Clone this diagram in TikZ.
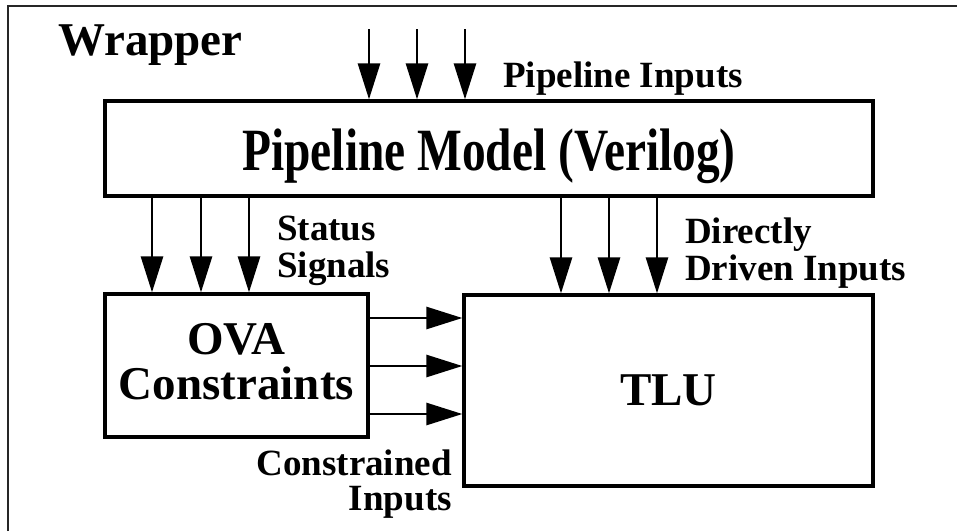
\documentclass[tikz,border=0pt]{standalone}
\usepackage{fontspec}
\usepackage{graphicx}
\setmainfont{Liberation Serif}
\usetikzlibrary{arrows.meta, positioning}

\begin{document}
\begin{tikzpicture}[
    x=1pt, y=-1pt,
    block/.style={draw, line width=3.3pt, inner sep=0pt, font=\fontsize{47}{45}\selectfont\bfseries, align=center},
    signal/.style={-{Triangle[length=36pt, width=22pt]}, line width=2.8pt},
    sublabel/.style={inner sep=0pt, font=\fontsize{37}{37}\selectfont\bfseries},
]

\useasboundingbox (0,0) rectangle (957,531);

% Wrapper
\draw[line width=2.2pt, black!85] (8,531) |- (957,6);
\node[inner sep=0pt, anchor=base west, font=\fontsize{47}{47}\selectfont\bfseries] (wrap) at (58,55) {Wrapper};

% Blocks
\node[block, minimum width=768pt, minimum height=95pt, font=\fontsize{60}{60}\selectfont\bfseries,
      text height=43pt, text depth=0pt] (pipe) at (489,148.5) {\scalebox{0.79}[1]{Pipeline Model (Verilog)}};
\node[block, minimum width=263pt, minimum height=143pt, text depth=8pt] (ova) at (236.5,365.5) {OVA\\Constraints};
\node[block, minimum width=409pt, minimum height=191pt] (tlu) at (668.5,390.5) {TLU};

% Pipeline inputs
\foreach \x [count=\i] in {369,417,465} {
  \coordinate (in\i) at (\x,29);
  \draw[signal] (in\i) -- (in\i |- pipe.north);
}

% Status signals
\foreach \x [count=\i] in {152,201,249} {
  \coordinate (st\i) at (\x,0);
  \draw[signal] (st\i |- pipe.south) -- (st\i |- ova.north);
}

% Directly driven inputs
\foreach \x [count=\i] in {561,609,657} {
  \coordinate (dr\i) at (\x,0);
  \draw[signal] (dr\i |- pipe.south) -- (dr\i |- tlu.north);
}

% Constrained inputs
\foreach \y [count=\i] in {318,366,414} {
  \coordinate (cn\i) at (0,\y);
  \draw[signal] (cn\i -| ova.east) -- (cn\i -| tlu.west);
}

% Labels (base = last line)
\node[sublabel, anchor=base west] (pinlbl) at (503,87) {Pipeline Inputs};
\node[sublabel, anchor=base west, align=left] (stlbl) at (277,277) {Status\\Signals};
\node[sublabel, anchor=base west, align=left] (drlbl) at (685,280) {Directly\\Driven Inputs};
\node[sublabel, anchor=base east, align=right, font=\fontsize{37}{35}\selectfont\bfseries] (cnlbl) at (452,510) {Constrained\\Inputs};

\end{tikzpicture}
\end{document}
